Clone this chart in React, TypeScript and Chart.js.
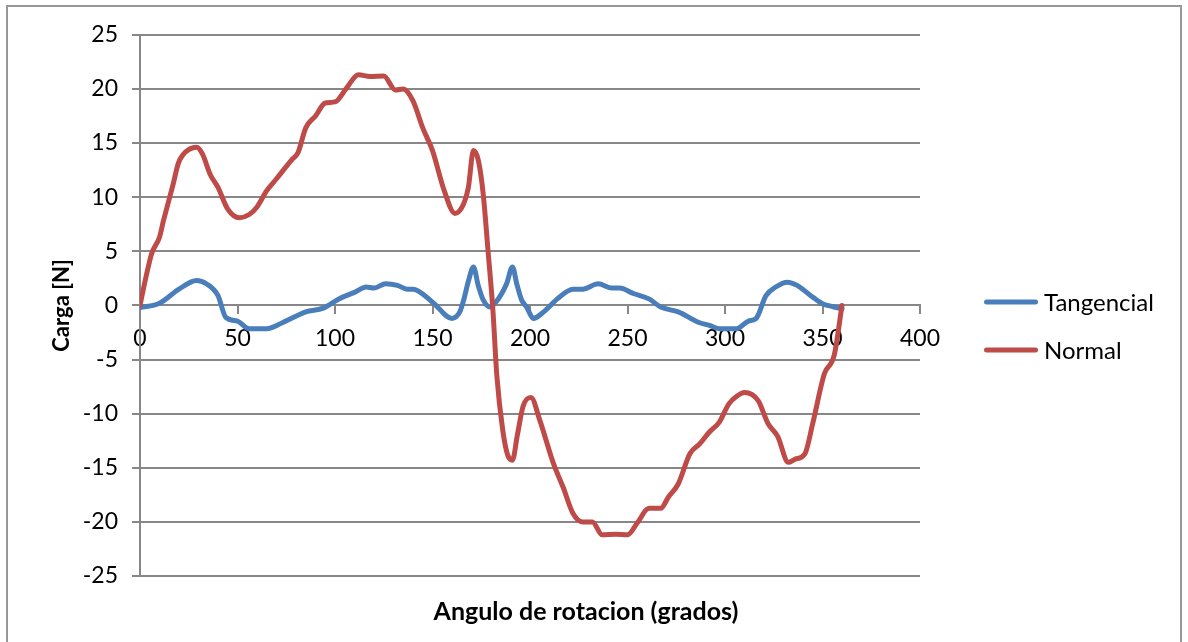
import React, { useEffect, useRef } from 'react';
import { Chart, registerables } from 'chart.js';

Chart.register(...registerables);

// ---- data ----
const seriesNames = ['Tangencial', 'Normal'];
const seriesColors = ['#4A7EBB', '#BE4B48'];

const tangencialAngles = [
  0, 10, 20, 29, 34, 40, 44, 50, 56, 65, 73, 85, 94, 102, 110, 116, 120, 126, 132, 137, 140, 150,
  160, 164, 166, 168.5, 171, 173.5, 176, 179.5, 182.5, 185.5, 188, 191, 193.2, 195.7, 198.3,
  201.7, 207, 214, 222, 227, 235, 242, 246, 253, 261, 267, 276, 287, 292, 297, 306, 312, 316,
  321, 326, 332, 337, 344, 350, 355, 360,
];
const tangencialValues = [
  -0.2, 0.2, 1.5, 2.3, 2.0, 0.9, -1.1, -1.45, -2.15, -2.15, -1.6, -0.6, -0.25, 0.6, 1.2, 1.7, 1.6,
  2.0, 1.85, 1.5, 1.5, 0.3, -1.2, -0.6, 0.5, 2.3, 3.55, 1.8, 0.5, -0.15, 0.3, 1.1, 2.0, 3.55, 2.0,
  0.5, -0.15, -1.2, -0.6, 0.6, 1.5, 1.5, 2.0, 1.6, 1.6, 1.1, 0.6, -0.15, -0.6, -1.6, -1.85, -2.15,
  -2.15, -1.45, -1.2, 0.9, 1.7, 2.15, 1.85, 0.9, 0.15, -0.1, -0.3,
];

const normalAngles = [
  0, 3.4, 6, 10, 12, 17, 19.6, 22, 29, 32, 36, 40, 45, 51, 56, 60, 65, 70, 78, 81, 85, 90, 95,
  100, 106, 112, 118, 125, 131, 135, 140, 145, 150, 156, 161.5, 166, 168.4, 171, 173.5, 176,
  178.5, 181, 183, 186, 188.5, 191, 193.5, 196.5, 200.5, 205, 212, 217, 222, 227, 232, 237, 244,
  250, 255, 261, 267, 271, 276, 282, 287, 292, 297, 302, 306, 310, 317, 322, 327, 332.5, 336,
  341, 345, 351, 356, 360,
];
const normalValues = [
  0, 2.9, 4.8, 6.3, 7.8, 11.2, 13.1, 13.9, 14.6, 14.0, 12.1, 10.9, 8.9, 8.1, 8.4, 9.1, 10.6, 11.7,
  13.5, 14.1, 16.4, 17.5, 18.7, 18.8, 20.1, 21.3, 21.15, 21.2, 19.9, 20.0, 18.9, 16.4, 14.3, 10.6,
  8.5, 9.4, 10.9, 14.3, 13.4, 10.3, 5.0, -0.5, -6.5, -11.5, -13.8, -14.3, -12.0, -9.3, -8.5, -10.6,
  -14.6, -16.8, -19.2, -20.0, -20.0, -21.2, -21.15, -21.2, -20.1, -18.75, -18.75, -17.7, -16.5,
  -13.7, -12.8, -11.7, -10.8, -9.1, -8.4, -8.05, -8.8, -10.9, -12.1, -14.5, -14.2, -13.7, -10.9,
  -6.3, -4.6, 0,
];

const xTitle = 'Angulo de rotacion (grados)';
const yTitle = 'Carga [N]';
const xMin = 0;
const xMax = 400;
const xStep = 50;
const yMin = -25;
const yMax = 25;
const yStep = 5;

const FONT = 'Lato, "Liberation Sans", sans-serif';
const GRID = '#878787';

const overlayPlugin = {
  id: 'overlay',
  afterDraw(chart: any) {
    const ctx = chart.ctx as CanvasRenderingContext2D;
    ctx.save();
    const ordered = [...chart.data.datasets].sort((a: any, b: any) => a.legendIndex - b.legendIndex);
    ordered.forEach((ds: any, i: number) => {
      const y = 295 + i * 48;
      ctx.strokeStyle = ds.borderColor;
      ctx.lineWidth = 5;
      ctx.lineCap = 'round';
      ctx.beginPath();
      ctx.moveTo(978.5, y);
      ctx.lineTo(1027.5, y);
      ctx.stroke();
      ctx.fillStyle = '#000';
      ctx.font = `24px ${FONT}`;
      ctx.textBaseline = 'middle';
      ctx.textAlign = 'left';
      ctx.fillText(ds.label, 1036, y + 1);
    });
    ctx.font = `bold 25px ${FONT}`;
    ctx.textAlign = 'center';
    ctx.textBaseline = 'middle';
    ctx.fillStyle = '#000';
    ctx.fillText(xTitle, 578, 605);
    ctx.restore();
  },
};

export default function App() {
  const ref = useRef<HTMLCanvasElement>(null);
  useEffect(() => {
    const datasets = [
      {
        label: seriesNames[0],
        legendIndex: 0,
        data: tangencialAngles.map((a, i) => ({ x: a, y: tangencialValues[i] })),
        borderColor: seriesColors[0],
        backgroundColor: seriesColors[0],
        order: 1,
      },
      {
        label: seriesNames[1],
        legendIndex: 1,
        data: normalAngles.map((a, i) => ({ x: a, y: normalValues[i] })),
        borderColor: seriesColors[1],
        backgroundColor: seriesColors[1],
        order: 0,
      },
    ].map((d) => ({
      ...d,
      borderWidth: 5,
      pointRadius: 0,
      pointHoverRadius: 0,
      borderCapStyle: 'round' as const,
      borderJoinStyle: 'round' as const,
      cubicInterpolationMode: 'monotone' as const,
      fill: false,
    }));

    const chart = new Chart(ref.current as HTMLCanvasElement, {
      type: 'line',
      data: { datasets: datasets as any },
      options: {
        animation: false,
        responsive: false,
        devicePixelRatio: 1,
        layout: { padding: { top: 27, right: 260, bottom: 69, left: 0 } },
        plugins: { legend: { display: false }, tooltip: { enabled: false } },
        scales: {
          x: {
            type: 'linear',
            min: xMin,
            max: xMax,
            position: { y: 0 } as any,
            ticks: {
              stepSize: xStep,
              color: '#000',
              font: { family: FONT, size: 23 },
              padding: 11,
              maxRotation: 0,
              autoSkip: false,
            },
            grid: {
              drawOnChartArea: false,
              drawTicks: true,
              tickLength: 8,
              color: GRID,
              lineWidth: 2,
            },
            border: { display: true, color: GRID, width: 2 },
          },
          y: {
            type: 'linear',
            min: yMin,
            max: yMax,
            ticks: {
              stepSize: yStep,
              color: '#000',
              font: { family: FONT, size: 23 },
              padding: 14,
            },
            grid: { color: GRID, lineWidth: 2, tickLength: 8, drawTicks: true },
            border: { display: true, color: GRID, width: 2 },
            title: {
              display: true,
              text: yTitle,
              color: '#000',
              font: { family: FONT, size: 22, weight: 'bold' },
              padding: { top: 41, bottom: 0 },
            },
            afterFit: (s: any) => {
              s.width = 132;
            },
          },
        },
      },
      plugins: [overlayPlugin],
    });
    return () => chart.destroy();
  }, []);

  return (
    <div
      style={{
        position: 'absolute',
        left: 6,
        top: 5,
        width: 1176,
        height: 642,
        border: '2px solid #989898',
        boxSizing: 'border-box',
        background: '#fff',
      }}
    >
      <canvas ref={ref} width={1172} height={638} style={{ display: 'block' }} />
    </div>
  );
}
